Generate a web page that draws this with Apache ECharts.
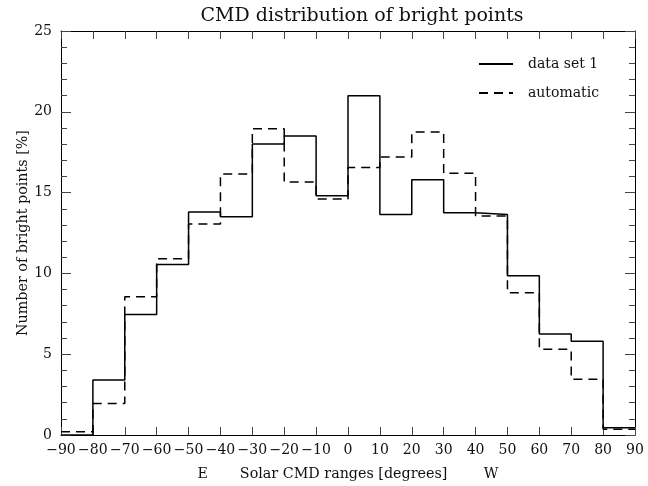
<!DOCTYPE html>
<html>

<head>
  <meta charset="utf-8">
  <script src="https://cdn.jsdelivr.net/npm/echarts@6/dist/echarts.min.js"></script>
  <style>
    body { margin: 0; background: #fff; }
  </style>
</head>

<body>
  <div id="main" style="width: 648px;height:486px;"></div>
  <script type="text/javascript">
    // bin edges in degrees (18 bins of 10 deg)
    var binEdges = [-90, -80, -70, -60, -50, -40, -30, -20, -10, 0, 10, 20, 30, 40, 50, 60, 70, 80, 90];
    // percentage per bin
    var dataSet1 = [0, 3.4, 7.45, 10.55, 13.8, 13.5, 18.0, 18.5, 14.8, 21.0, 13.65, 15.8, 13.75, 13.65, 9.85, 6.25, 5.8, 0.45];
    var automatic = [0.2, 1.95, 8.55, 10.9, 13.05, 16.15, 18.95, 15.65, 14.6, 16.55, 17.2, 18.75, 16.2, 13.55, 8.8, 5.3, 3.45, 0.35];
    var seriesNames = ['data set 1', 'automatic'];

    // histogram steps: one point per left edge, last value repeated at right edge
    function steps(vals) {
      var pts = [];
      for (var i = 0; i < binEdges.length; i++) {
        pts.push([binEdges[i], vals[Math.min(i, vals.length - 1)]]);
      }
      return pts;
    }

    var font = 'DejaVu Serif';
    var txt = { fontFamily: font, fontSize: 14.3, color: '#111' };

    var myChart = echarts.init(document.getElementById('main'));
    var option = {
      animation: false,
      backgroundColor: '#fff',
      title: {
        text: 'CMD distribution of bright points',
        left: 357,
        top: 2,
        textAlign: 'center',
        textStyle: { fontFamily: font, fontSize: 19, fontWeight: 'normal', color: '#111' }
      },
      legend: {
        orient: 'vertical',
        left: 473,
        top: 52,
        itemWidth: 34,
        itemHeight: 14,
        itemGap: 15,
        data: seriesNames,
        itemStyle: { color: 'transparent', borderWidth: 0, opacity: 0 },
        textStyle: { fontFamily: font, fontSize: 14, color: '#111', padding: [0, 0, 0, 10] }
      },
      grid: { left: 61, right: 13, top: 31, bottom: 44 },
      xAxis: [{
        type: 'value',
        min: -90,
        max: 90,
        interval: 10,
        name: 'E       Solar CMD ranges [degrees]        W',
        nameLocation: 'middle',
        nameGap: 32,
        nameTextStyle: txt,
        axisLine: { onZero: false, lineStyle: { color: '#000', width: 1 } },
        axisTick: { inside: true, length: 8, lineStyle: { color: '#444' } },
        axisLabel: {
          margin: 8,
          fontFamily: font, fontSize: 14, color: '#111',
          formatter: function (v) { return String(v).replace('-', '\u2212'); }
        },
        splitLine: { show: false }
      }, {
        type: 'value',
        position: 'top',
        min: -90,
        max: 90,
        interval: 10,
        axisLine: { onZero: false, lineStyle: { color: '#000', width: 1 } },
        axisTick: { inside: true, length: 8, lineStyle: { color: '#444' } },
        axisLabel: { show: false },
        splitLine: { show: false }
      }],
      yAxis: [{
        type: 'value',
        min: 0,
        max: 25,
        interval: 5,
        name: 'Number of bright points [%]',
        nameLocation: 'middle',
        nameGap: 31,
        nameMoveOverlap: false,
        nameTextStyle: txt,
        axisLine: { show: true, onZero: false, lineStyle: { color: '#000', width: 1 } },
        axisTick: { inside: true, length: 10, lineStyle: { color: '#444' } },
        minorTick: { show: true, splitNumber: 5, length: 6, lineStyle: { color: '#444' } },
        axisLabel: { margin: 9, fontFamily: font, fontSize: 14, color: '#111' },
        splitLine: { show: false }
      }, {
        type: 'value',
        position: 'right',
        min: 0,
        max: 25,
        interval: 5,
        axisLine: { show: true, onZero: false, lineStyle: { color: '#000', width: 1 } },
        axisTick: { inside: true, length: 10, lineStyle: { color: '#444' } },
        minorTick: { show: true, splitNumber: 5, length: 6, lineStyle: { color: '#444' } },
        axisLabel: { show: false },
        splitLine: { show: false }
      }],
      series: [{
        name: seriesNames[0],
        type: 'line',
        step: 'end',
        symbol: 'none',
        data: steps(dataSet1),
        lineStyle: { color: '#000', width: 1.5, type: 'solid' },
        itemStyle: { color: '#000' }
      }, {
        name: seriesNames[1],
        type: 'line',
        step: 'end',
        symbol: 'none',
        data: steps(automatic),
        lineStyle: { color: '#000', width: 1.5, type: [9, 6] },
        itemStyle: { color: '#000' }
      }]
    };
    myChart.setOption(option);
  </script>
</body>

</html>
